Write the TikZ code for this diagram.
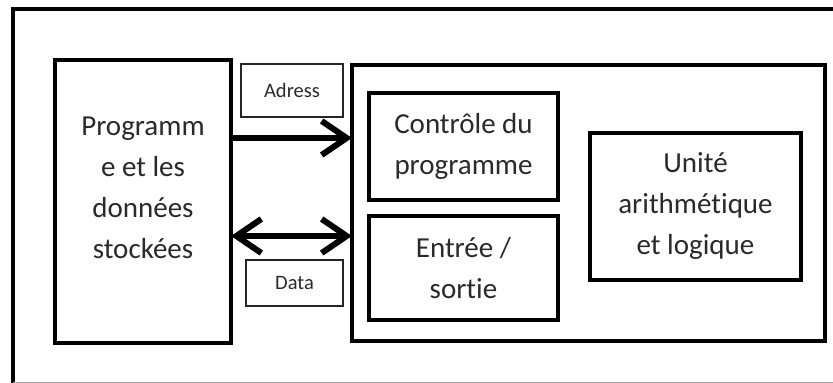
\documentclass[tikz,border=0pt]{standalone}
\usepackage{fontspec}
\setmainfont{Carlito}[Ligatures=NoCommon]
\usetikzlibrary{arrows.meta}
\definecolor{txt}{HTML}{2A2A2A}
\tikzset{
  bigbox/.style={draw=black, line width=4pt, rectangle, inner sep=0pt, outer sep=0pt, fill=white},
  tagbox/.style={draw=black!85, line width=1.3pt, rectangle, inner sep=0pt, outer sep=0pt, text=txt, font=\fontsize{20.5}{24}\selectfont},
  bigtxt/.style={text=txt, align=center, font=\fontsize{29}{41}\selectfont, inner sep=0pt},
  bus/.style={line width=6pt, black},
  barbtip/.tip={Straight Barb[length=25pt, width=34pt, line width=6pt]}
}
\begin{document}
\begin{tikzpicture}[x=1pt, y=-1pt]
\useasboundingbox (0,0) rectangle (833,383);
% outer frame
\draw[line width=4pt] (13,390) -- (13,9) -- (845,9);
\draw[black!35, line width=1pt] (13,382) -- (833,382);
% left box
\node[bigbox, minimum width=176pt, minimum height=283pt] (prog) at (143,201.5) {};
\node[bigtxt] (progtxt) at (143,188) {Programm\\e et les\\données\\stockées};
% right big box
\node[bigbox, minimum width=473pt, minimum height=276pt] (cpu) at (588.5,203) {};
\node[bigbox, bigtxt, minimum width=189pt, minimum height=107pt] (ctrl) at (463.5,146.5) {Contrôle du\\programme};
\node[bigbox, bigtxt, minimum width=189pt, minimum height=104pt] (io) at (463.5,268) {Entrée /\\sortie};
\node[bigbox, bigtxt, minimum width=211pt, minimum height=147pt] (alu) at (695.5,206.5) {Unité\\arithmétique\\et logique};
% tags
\node[tagbox, minimum width=102pt, minimum height=53pt] (adr) at (292,90.5) {Adress};
\node[tagbox, minimum width=97pt, minimum height=46pt] (dat) at (294.5,283) {Data};
% buses
\coordinate (ya) at (0,138);
\coordinate (yd) at (0,236);
\draw[bus, -barbtip] (prog.east |- ya) -- (cpu.west |- ya);
\draw[bus, barbtip-barbtip] (prog.east |- yd) -- (cpu.west |- yd);
\end{tikzpicture}
\end{document}
